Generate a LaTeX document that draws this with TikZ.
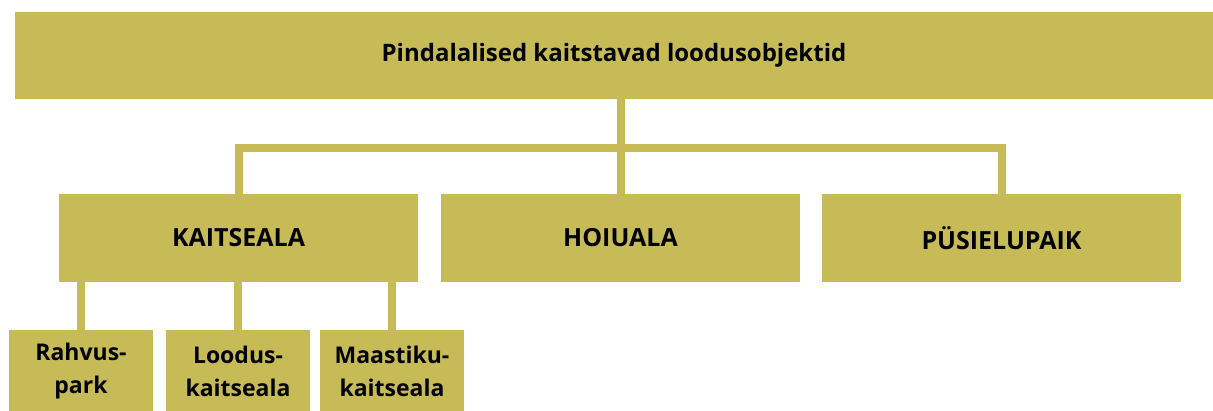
\documentclass[tikz,border=0pt]{standalone}
\usepackage{fontspec}
\setmainfont{Open Sans}
\usepackage{xcolor}
\definecolor{olive}{RGB}{199,187,88}

\begin{document}
\begin{tikzpicture}[x=1pt, y=-1pt,
    box/.style={rectangle, fill=olive, inner sep=0pt, align=center, font=\bfseries},
    link/.style={draw=olive, line width=8pt}]
            \useasboundingbox (0,0) rectangle (1213,410);
            \node[box, minimum width=1198pt, minimum height=87pt, font=\bfseries\fontsize{24}{29}\selectfont] (objektid) at (614,55.5) {Pindalalised kaitstavad loodusobjektid};
            \node[box, minimum width=359pt, minimum height=88pt, font=\bfseries\fontsize{25}{30}\selectfont] (kaitseala) at (238.5,238) {KAITSEALA};
            \node[box, minimum width=359pt, minimum height=88pt, font=\bfseries\fontsize{25}{30}\selectfont] (hoiuala) at (620.5,238) {HOIUALA};
            \node[box, minimum width=359pt, minimum height=88pt, font=\bfseries\fontsize{25}{30}\selectfont] (pysielupaik) at (1001.5,238) {PÜSIELUPAIK};
            \node[box, minimum width=144pt, minimum height=82pt, font=\bfseries\fontsize{23}{33}\selectfont] (rahvuspark) at (81,371) {Rahvus-\\park};
            \node[box, minimum width=144pt, minimum height=82pt, font=\bfseries\fontsize{23}{33}\selectfont] (looduskaitseala) at (238,371) {Loodus-\\kaitseala};
            \node[box, minimum width=144pt, minimum height=82pt, font=\bfseries\fontsize{23}{33}\selectfont] (maastikukaitseala) at (392,371) {Maastiku-\\kaitseala};
            \coordinate (bar) at (0,148);

            \draw[link] (objektid.south -| hoiuala.north) -- (hoiuala.north);
            \draw[link] (kaitseala.north) -- (kaitseala.north |- bar) -- (pysielupaik.north |- bar) -- (pysielupaik.north);
            \draw[link] (kaitseala.south -| rahvuspark.north) -- (rahvuspark.north);
            \draw[link] (kaitseala.south -| looduskaitseala.north) -- (looduskaitseala.north);
            \draw[link] (kaitseala.south -| maastikukaitseala.north) -- (maastikukaitseala.north);
        \end{tikzpicture}
\end{document}
